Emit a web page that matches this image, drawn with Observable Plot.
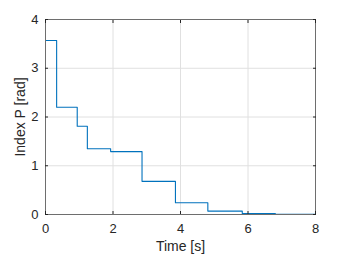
<!DOCTYPE html>
<html>
<head>
<meta charset="utf-8">
<script src="https://cdn.jsdelivr.net/npm/d3@7"></script>
<script src="https://cdn.jsdelivr.net/npm/@observablehq/plot@0.6"></script>
<style>
  body { margin: 0; background: #fff; }
  #chart { width: 349px; height: 258px; }
</style>
</head>
<body>
<div id="chart"></div>
<script>
const times = [0, 0.33, 0.94, 1.24, 1.93, 2.86, 3.85, 4.81, 5.83, 6.81, 8];
const values = [3.57, 2.2, 1.81, 1.35, 1.29, 0.68, 0.24, 0.07, 0.02, 0.004, 0.004];
const xTicks = [0, 2, 4, 6, 8];
const yTicks = [0, 1, 2, 3, 4];
const xLabel = "Time [s]";
const yLabel = "Index P [rad]";

const data = times.map((t, i) => ({t, v: values[i]}));
const ink = "#262626";
const edge = "#6e6e6e";

const plot = Plot.plot({
  width: 349,
  height: 258,
  marginLeft: 45,
  marginRight: 34,
  marginTop: 19,
  marginBottom: 44,
  style: {fontFamily: "Liberation Sans, Arial, sans-serif", fontSize: "13px", color: ink, background: "#fff"},
  x: {domain: [0, 8]},
  y: {domain: [0, 4]},
  marks: [
    Plot.gridX(xTicks, {stroke: "#e0e0e0", strokeOpacity: 1}),
    Plot.gridY(yTicks, {stroke: "#e0e0e0", strokeOpacity: 1}),
    Plot.line(data, {x: "t", y: "v", curve: "step-after", stroke: "#0072BD", strokeWidth: 1.1}),
    Plot.frame({stroke: edge, strokeWidth: 1}),
    Plot.axisX(xTicks, {anchor: "bottom", tickSize: -3, tickPadding: 12, stroke: ink, fill: ink, fontSize: 13, label: null}),
    Plot.axisY(yTicks, {anchor: "left", tickSize: -3, tickPadding: 10, stroke: ink, fill: ink, fontSize: 13, label: null}),
    Plot.axisX(xTicks, {anchor: "top", tickSize: -3, tickFormat: () => "", stroke: ink, label: null}),
    Plot.axisY(yTicks, {anchor: "right", tickSize: -3, tickFormat: () => "", stroke: ink, label: null}),
    Plot.text([xLabel], {frameAnchor: "bottom", dy: 32, lineAnchor: "middle", fontSize: 14, fill: ink, text: d => d}),
    Plot.text([yLabel], {x: () => 0, y: () => 2, dx: -25, rotate: -90, lineAnchor: "middle", textAnchor: "middle", fontSize: 14, fill: ink, text: d => d})
  ]
});
document.getElementById("chart").appendChild(plot);
</script>
</body>
</html>
